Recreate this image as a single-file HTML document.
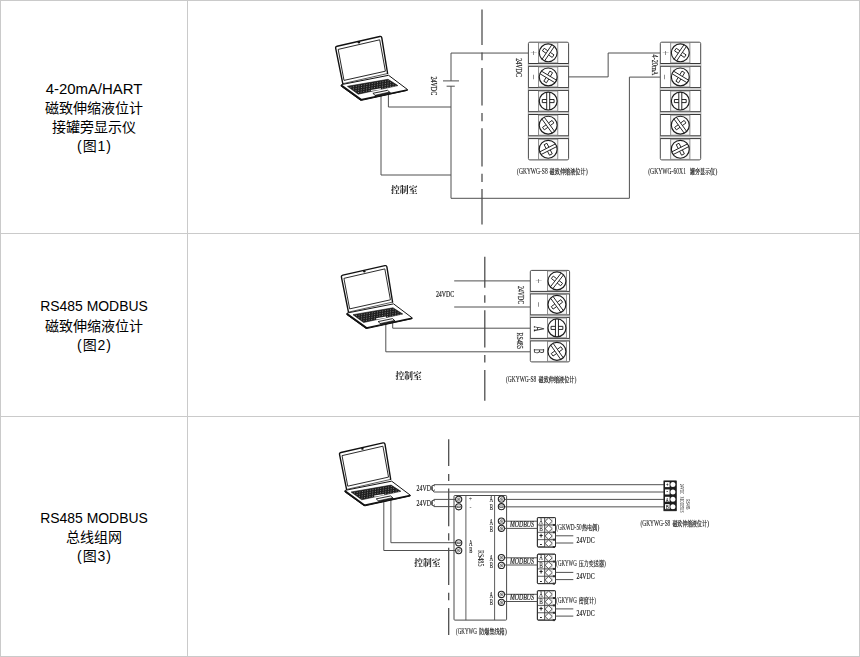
<!DOCTYPE html>
<html lang="zh-CN">
<head>
<meta charset="utf-8">
<title>接线图</title>
<style>
html,body{margin:0;padding:0;background:#fff;}
body{width:860px;height:657px;position:relative;overflow:hidden;font-family:"Liberation Sans","Noto Sans CJK SC",sans-serif;}
.hl{position:absolute;left:0;width:860px;height:1px;background:#cacaca;}
.vl{position:absolute;top:0;width:1px;height:657px;background:#cacaca;}
.cap{position:absolute;left:1px;width:186px;text-align:center;color:#000;font-size:14px;line-height:19px;}
.cap .en{font-size:15.2px;display:block;white-space:nowrap;position:relative;transform-origin:50% 50%;}
.cap .zh{display:block;white-space:nowrap;}
.cap .fig{letter-spacing:0.9px;text-indent:0.9px;}
svg{position:absolute;left:0;top:0;will-change:transform;}
svg text{white-space:pre;}
</style>
</head>
<body>
<div class="hl" style="top:0"></div><div class="hl" style="top:233px"></div><div class="hl" style="top:416px"></div><div class="hl" style="top:656px"></div>
<div class="vl" style="left:0"></div><div class="vl" style="left:187px"></div><div class="vl" style="left:859px"></div>
<div class="cap" style="top:81px;transform:translateY(-0.7px)"><span class="en" id="t1" style="transform:scaleX(0.982);top:-1px">4-20mA/HART</span><span class="zh">磁致伸缩液位计</span><span class="zh">接罐旁显示仪</span><span class="zh fig">(图1)</span></div>
<div class="cap" style="top:298.5px;transform:translateY(-0.7px)"><span class="en" id="t2" style="transform:scaleX(0.917);top:-2px">RS485 MODBUS</span><span class="zh">磁致伸缩液位计</span><span class="zh fig">(图2)</span></div>
<div class="cap" style="top:509.5px;transform:translateY(-1px)"><span class="en" id="t3" style="transform:scaleX(0.917);top:-1px">RS485 MODBUS</span><span class="zh">总线组网</span><span class="zh fig">(图3)</span></div>

<svg width="860" height="657" viewBox="0 0 860 657">
<defs><g id="laptop">
<path d="M342.8,83.7 L335.7,48.3 Q335.3,46.6 337.1,46.2 L379.8,36.5 Q381.4,36.1 381.8,37.8 L387.6,73.5" fill="#fff" stroke="#111" stroke-width="1.4" stroke-linejoin="round" stroke-linecap="round"/>
<path d="M342.8,83.7 L387.6,73.5" fill="none" stroke="#111" stroke-width="0.7"/>
<path d="M338.2,49.4 L379.7,39.8 L385.4,71.2 L344,80.4 Z" fill="#fff" stroke="#111" stroke-width="0.9" stroke-linejoin="round"/>
<circle cx="358.9" cy="42.3" r="1.2" fill="#111"/>
<path d="M341.5,84.6 L388.6,75.3 L407.3,89.4 L407.1,90.4 L361.6,100.3 L360.4,100.1 L341.3,86.3 Z" fill="#fff" stroke="#111" stroke-width="1" stroke-linejoin="round"/>
<path d="M341.5,85.6 L360.9,99.6" fill="none" stroke="#111" stroke-width="1.8" stroke-linecap="round"/>
<path d="M360.9,99.7 L407.2,89.9" fill="none" stroke="#111" stroke-width="1.5" stroke-linecap="round"/>
<path d="M347.4,86.3 L388,79.3 L397.9,85.6 L358.2,94.2 Z" fill="#1e1e1e" stroke="#111" stroke-width="0.6"/>
<path d="M350.5,87.3 L388.6,80.7 M353,89 L391,82.5 M355.5,90.8 L393.5,84.3 M358,92.6 L370,90.4 M382,88.2 L396,85.8" fill="none" stroke="#c8c8c8" stroke-width="0.65" stroke-dasharray="0.9 1.8"/>
<path d="M370.9,90.5 L381,88.8" fill="none" stroke="#fff" stroke-width="1.2"/>
<path d="M372.9,93.3 L387.6,90.3 L390.6,93.2 L376.4,96.5 Z" fill="#fff" stroke="#111" stroke-width="0.9" stroke-linejoin="round"/>
<path d="M375.2,95.2 L389.4,92.1 L390.6,93.2 L376.4,96.5 Z" fill="#222" stroke="#111" stroke-width="0.6"/>
</g></defs>
<path d="M528.4,53.05 L451,53.05 L451,80.9" fill="none" stroke="#505050" stroke-width="1" />
<line x1="443" y1="80.9" x2="459" y2="80.9" stroke="#505050" stroke-width="1" />
<line x1="446.6" y1="86.2" x2="454.8" y2="86.2" stroke="#505050" stroke-width="1" />
<path d="M451,86.2 L451,198.3 L629.4,198.3 L629.4,77.1 L660.3,77.1" fill="none" stroke="#505050" stroke-width="1" />
<path d="M381,94 L381,175 L451,175" fill="none" stroke="#505050" stroke-width="1" />
<path d="M388.4,93 L388.4,107 L451,107" fill="none" stroke="#505050" stroke-width="1" />
<path d="M568.6,76.9 L608.15,76.9 L608.15,53 L660.3,53" fill="none" stroke="#505050" stroke-width="1" />
<line x1="482" y1="9.6" x2="482" y2="44.9" stroke="#484848" stroke-width="1.25" />
<line x1="482" y1="52.5" x2="482" y2="60.2" stroke="#484848" stroke-width="1.25" />
<line x1="482" y1="67.9" x2="482" y2="105.5" stroke="#484848" stroke-width="1.25" />
<line x1="482" y1="113" x2="482" y2="121.3" stroke="#484848" stroke-width="1.25" />
<line x1="482" y1="128.3" x2="482" y2="166.4" stroke="#484848" stroke-width="1.25" />
<line x1="482" y1="173.8" x2="482" y2="182" stroke="#484848" stroke-width="1.25" />
<line x1="482" y1="189" x2="482" y2="224.5" stroke="#484848" stroke-width="1.25" />
<use href="#laptop" x="0" y="0"/>
<rect x="528.4" y="42.2" width="40.2" height="117.7" fill="#fff" stroke="#4a4a4a" stroke-width="1" rx="1.4"/>
<rect x="528.4" y="63.5" width="40.2" height="2.8" fill="#e4e4e4"/>
<line x1="528.4" y1="63.5" x2="568.6" y2="63.5" stroke="#383838" stroke-width="1" />
<rect x="538.6" y="42.8" width="19.2" height="20.1" fill="#f6f6f6" stroke="#777" stroke-width="0.8"/>
<circle cx="548.2" cy="52.85" r="8.95" fill="#fff" stroke="#1c1c1c" stroke-width="1.15"/>
<path d="M542.02,59.33 L551.89,44.7 M546.09,53.3 L542.44,50.84 L544.18,48.27 L547.82,50.73 M544.51,61 L554.38,46.37 M548.58,54.97 L552.22,57.43 L553.96,54.86 L550.31,52.4 " fill="none" stroke="#1c1c1c" stroke-width="0.95"/>
<rect x="528.4" y="87.6" width="40.2" height="2.8" fill="#e4e4e4"/>
<line x1="528.4" y1="87.6" x2="568.6" y2="87.6" stroke="#383838" stroke-width="1" />
<line x1="528.4" y1="66.3" x2="568.6" y2="66.3" stroke="#383838" stroke-width="1" />
<rect x="538.6" y="66.9" width="19.2" height="20.1" fill="#f6f6f6" stroke="#777" stroke-width="0.8"/>
<circle cx="548.2" cy="76.95" r="8.95" fill="#fff" stroke="#1c1c1c" stroke-width="1.15"/>
<path d="M541.41,71.12 L556.54,80.21 M547.64,74.87 L549.91,71.09 L552.57,72.69 L550.3,76.46 M539.86,73.69 L554.99,82.78 M546.1,77.44 L543.83,81.21 L546.49,82.81 L548.76,79.03 " fill="none" stroke="#1c1c1c" stroke-width="0.95"/>
<rect x="528.4" y="111.7" width="40.2" height="2.8" fill="#e4e4e4"/>
<line x1="528.4" y1="111.7" x2="568.6" y2="111.7" stroke="#383838" stroke-width="1" />
<line x1="528.4" y1="90.4" x2="568.6" y2="90.4" stroke="#383838" stroke-width="1" />
<rect x="538.6" y="91" width="19.2" height="20.1" fill="#f6f6f6" stroke="#777" stroke-width="0.8"/>
<circle cx="548.2" cy="101.05" r="8.95" fill="#fff" stroke="#1c1c1c" stroke-width="1.15"/>
<path d="M549.7,92.23 L549.7,109.87 M549.7,99.5 L554.1,99.5 L554.1,102.6 L549.7,102.6 M546.7,92.23 L546.7,109.87 M546.7,99.5 L542.3,99.5 L542.3,102.6 L546.7,102.6 " fill="none" stroke="#1c1c1c" stroke-width="0.95"/>
<rect x="528.4" y="135.8" width="40.2" height="2.8" fill="#e4e4e4"/>
<line x1="528.4" y1="135.8" x2="568.6" y2="135.8" stroke="#383838" stroke-width="1" />
<line x1="528.4" y1="114.5" x2="568.6" y2="114.5" stroke="#383838" stroke-width="1" />
<rect x="538.6" y="115.1" width="19.2" height="20.1" fill="#f6f6f6" stroke="#777" stroke-width="0.8"/>
<circle cx="548.2" cy="125.15" r="8.95" fill="#fff" stroke="#1c1c1c" stroke-width="1.15"/>
<path d="M544.23,117.13 L554.6,131.41 M548.5,123.01 L552.06,120.43 L553.88,122.94 L550.32,125.52 M541.8,118.89 L552.17,133.17 M546.08,124.78 L542.52,127.36 L544.34,129.87 L547.9,127.29 " fill="none" stroke="#1c1c1c" stroke-width="0.95"/>
<line x1="528.4" y1="138.6" x2="568.6" y2="138.6" stroke="#383838" stroke-width="1" />
<rect x="538.6" y="139.2" width="19.2" height="20.1" fill="#f6f6f6" stroke="#777" stroke-width="0.8"/>
<circle cx="548.2" cy="149.25" r="8.95" fill="#fff" stroke="#1c1c1c" stroke-width="1.15"/>
<path d="M539.66,151.92 L555.38,143.91 M546.14,148.62 L544.14,144.7 L546.9,143.29 L548.9,147.21 M541.02,154.59 L556.74,146.58 M547.5,151.29 L549.5,155.21 L552.26,153.8 L550.26,149.88 " fill="none" stroke="#1c1c1c" stroke-width="0.95"/>
<rect x="660.3" y="42.2" width="40.4" height="117.7" fill="#fff" stroke="#4a4a4a" stroke-width="1" rx="1.4"/>
<rect x="660.3" y="63.5" width="40.4" height="2.8" fill="#e4e4e4"/>
<line x1="660.3" y1="63.5" x2="700.7" y2="63.5" stroke="#383838" stroke-width="1" />
<rect x="670.7" y="42.8" width="19.2" height="20.1" fill="#f6f6f6" stroke="#777" stroke-width="0.8"/>
<circle cx="680.3" cy="52.85" r="8.95" fill="#fff" stroke="#1c1c1c" stroke-width="1.15"/>
<path d="M674.12,59.33 L683.99,44.7 M678.19,53.3 L674.54,50.84 L676.28,48.27 L679.92,50.73 M676.61,61 L686.48,46.37 M680.68,54.97 L684.32,57.43 L686.06,54.86 L682.41,52.4 " fill="none" stroke="#1c1c1c" stroke-width="0.95"/>
<rect x="660.3" y="87.6" width="40.4" height="2.8" fill="#e4e4e4"/>
<line x1="660.3" y1="87.6" x2="700.7" y2="87.6" stroke="#383838" stroke-width="1" />
<line x1="660.3" y1="66.3" x2="700.7" y2="66.3" stroke="#383838" stroke-width="1" />
<rect x="670.7" y="66.9" width="19.2" height="20.1" fill="#f6f6f6" stroke="#777" stroke-width="0.8"/>
<circle cx="680.3" cy="76.95" r="8.95" fill="#fff" stroke="#1c1c1c" stroke-width="1.15"/>
<path d="M673.51,71.12 L688.64,80.21 M679.74,74.87 L682.01,71.09 L684.67,72.69 L682.4,76.46 M671.96,73.69 L687.09,82.78 M678.2,77.44 L675.93,81.21 L678.59,82.81 L680.86,79.03 " fill="none" stroke="#1c1c1c" stroke-width="0.95"/>
<rect x="660.3" y="111.7" width="40.4" height="2.8" fill="#e4e4e4"/>
<line x1="660.3" y1="111.7" x2="700.7" y2="111.7" stroke="#383838" stroke-width="1" />
<line x1="660.3" y1="90.4" x2="700.7" y2="90.4" stroke="#383838" stroke-width="1" />
<rect x="670.7" y="91" width="19.2" height="20.1" fill="#f6f6f6" stroke="#777" stroke-width="0.8"/>
<circle cx="680.3" cy="101.05" r="8.95" fill="#fff" stroke="#1c1c1c" stroke-width="1.15"/>
<path d="M681.8,92.23 L681.8,109.87 M681.8,99.5 L686.2,99.5 L686.2,102.6 L681.8,102.6 M678.8,92.23 L678.8,109.87 M678.8,99.5 L674.4,99.5 L674.4,102.6 L678.8,102.6 " fill="none" stroke="#1c1c1c" stroke-width="0.95"/>
<rect x="660.3" y="135.8" width="40.4" height="2.8" fill="#e4e4e4"/>
<line x1="660.3" y1="135.8" x2="700.7" y2="135.8" stroke="#383838" stroke-width="1" />
<line x1="660.3" y1="114.5" x2="700.7" y2="114.5" stroke="#383838" stroke-width="1" />
<rect x="670.7" y="115.1" width="19.2" height="20.1" fill="#f6f6f6" stroke="#777" stroke-width="0.8"/>
<circle cx="680.3" cy="125.15" r="8.95" fill="#fff" stroke="#1c1c1c" stroke-width="1.15"/>
<path d="M676.33,117.13 L686.7,131.41 M680.6,123.01 L684.16,120.43 L685.98,122.94 L682.42,125.52 M673.9,118.89 L684.27,133.17 M678.18,124.78 L674.62,127.36 L676.44,129.87 L680,127.29 " fill="none" stroke="#1c1c1c" stroke-width="0.95"/>
<line x1="660.3" y1="138.6" x2="700.7" y2="138.6" stroke="#383838" stroke-width="1" />
<rect x="670.7" y="139.2" width="19.2" height="20.1" fill="#f6f6f6" stroke="#777" stroke-width="0.8"/>
<circle cx="680.3" cy="149.25" r="8.95" fill="#fff" stroke="#1c1c1c" stroke-width="1.15"/>
<path d="M671.76,151.92 L687.48,143.91 M678.24,148.62 L676.24,144.7 L679,143.29 L681,147.21 M673.12,154.59 L688.84,146.58 M679.6,151.29 L681.6,155.21 L684.36,153.8 L682.36,149.88 " fill="none" stroke="#1c1c1c" stroke-width="0.95"/>
<text transform="translate(533.5 52.8) rotate(90) scale(0.85 1.35)" font-size="10" text-anchor="middle" dominant-baseline="central" fill="#555" font-family="'Liberation Serif','Noto Serif CJK SC',serif">+</text>
<text transform="translate(533.5 77) rotate(90) scale(1.7 0.9)" font-size="10" text-anchor="middle" dominant-baseline="central" fill="#555" font-family="'Liberation Serif','Noto Serif CJK SC',serif">-</text>
<text transform="translate(665.4 52.8) rotate(90) scale(0.85 1.35)" font-size="10" text-anchor="middle" dominant-baseline="central" fill="#555" font-family="'Liberation Serif','Noto Serif CJK SC',serif">+</text>
<text transform="translate(665.4 77.1) rotate(90) scale(1.7 0.9)" font-size="10" text-anchor="middle" dominant-baseline="central" fill="#555" font-family="'Liberation Serif','Noto Serif CJK SC',serif">-</text>
<text transform="translate(434.1 85.8) rotate(90) scale(0.703 1)" x="0" y="2.8" font-size="8.55" text-anchor="middle" fill="#222" stroke="#222" stroke-width="0.18" font-family="'Liberation Serif','Noto Serif CJK SC',serif">24VDC</text>
<text transform="translate(519 67.5) rotate(90) scale(0.703 1)" x="0" y="2.8" font-size="8.55" text-anchor="middle" fill="#222" stroke="#222" stroke-width="0.18" font-family="'Liberation Serif','Noto Serif CJK SC',serif">24VDC</text>
<text transform="translate(654.7 64.9) rotate(90) scale(0.733 1)" x="0" y="2.8" font-size="8.55" text-anchor="middle" fill="#222" stroke="#222" stroke-width="0.18" font-family="'Liberation Serif','Noto Serif CJK SC',serif">4-20mA</text>
<text x="391" y="193.21" font-size="9.2" textLength="26.5" lengthAdjust="spacingAndGlyphs" fill="#222" font-weight="700" font-family="'Liberation Serif','Noto Serif CJK SC',serif">控制室</text>
<text font-family="'Liberation Serif','Noto Serif CJK SC',serif" fill="#222" stroke="#222" stroke-width="0.1"><tspan x="517.1" y="174.25" font-size="7.79" textLength="30.6" lengthAdjust="spacingAndGlyphs">(GKYWG-S8</tspan><tspan font-size="1"> </tspan><tspan x="549.6" y="174.18" font-size="6.9" textLength="36" lengthAdjust="spacingAndGlyphs" fill="#1a1a1a" stroke="#1a1a1a" stroke-width="0.2">磁致伸缩液位计</tspan><tspan x="585.8" y="174.25" font-size="7.79" textLength="2" lengthAdjust="spacingAndGlyphs">)</tspan></text>
<text font-family="'Liberation Serif','Noto Serif CJK SC',serif" fill="#222" stroke="#222" stroke-width="0.1"><tspan x="648.2" y="174.25" font-size="7.79" textLength="37.8" lengthAdjust="spacingAndGlyphs">(GKYWG-60X1</tspan><tspan font-size="1"> </tspan><tspan x="690" y="174.18" font-size="6.9" textLength="25.1" lengthAdjust="spacingAndGlyphs" fill="#1a1a1a" stroke="#1a1a1a" stroke-width="0.2">罐旁显示仪</tspan><tspan x="715.3" y="174.25" font-size="7.79" textLength="2.1" lengthAdjust="spacingAndGlyphs">)</tspan></text>
<line x1="454.2" y1="280.9" x2="530.3" y2="280.9" stroke="#505050" stroke-width="1" />
<line x1="454.2" y1="307" x2="530.3" y2="307" stroke="#505050" stroke-width="1" />
<path d="M392.7,321 L392.7,328.2 L530.3,328.2" fill="none" stroke="#505050" stroke-width="1" />
<path d="M385.8,322 L385.8,351.8 L530.3,351.8" fill="none" stroke="#505050" stroke-width="1" />
<use href="#laptop" transform="translate(10.81 229.69) scale(0.985)"/>
<line x1="484.8" y1="256.8" x2="484.8" y2="287.8" stroke="#484848" stroke-width="1.25" />
<line x1="484.8" y1="295.2" x2="484.8" y2="302.8" stroke="#484848" stroke-width="1.25" />
<line x1="484.8" y1="310.3" x2="484.8" y2="347.5" stroke="#484848" stroke-width="1.25" />
<line x1="484.8" y1="355" x2="484.8" y2="362.5" stroke="#484848" stroke-width="1.25" />
<line x1="484.8" y1="369.9" x2="484.8" y2="400.8" stroke="#484848" stroke-width="1.25" />
<rect x="530.3" y="270.4" width="39.3" height="91.5" fill="#fff" stroke="#4a4a4a" stroke-width="1" rx="1.4"/>
<rect x="530.3" y="291.4" width="39.3" height="2.5" fill="#e4e4e4"/>
<line x1="530.3" y1="291.4" x2="569.6" y2="291.4" stroke="#383838" stroke-width="1" />
<rect x="547.4" y="271" width="19.1" height="19.8" fill="#f6f6f6" stroke="#777" stroke-width="0.8"/>
<circle cx="556.95" cy="280.9" r="8.95" fill="#fff" stroke="#1c1c1c" stroke-width="1.15"/>
<path d="M550.34,286.93 L561.2,273.02 M554.81,281.2 L551.35,278.49 L553.26,276.05 L556.72,278.76 M552.7,288.78 L563.56,274.87 M557.18,283.04 L560.64,285.75 L562.55,283.31 L559.09,280.6 " fill="none" stroke="#1c1c1c" stroke-width="0.95"/>
<rect x="530.3" y="314.9" width="39.3" height="2.5" fill="#e4e4e4"/>
<line x1="530.3" y1="314.9" x2="569.6" y2="314.9" stroke="#383838" stroke-width="1" />
<line x1="530.3" y1="293.9" x2="569.6" y2="293.9" stroke="#383838" stroke-width="1" />
<rect x="547.4" y="294.5" width="19.1" height="19.8" fill="#f6f6f6" stroke="#777" stroke-width="0.8"/>
<circle cx="556.95" cy="304.4" r="8.95" fill="#fff" stroke="#1c1c1c" stroke-width="1.15"/>
<path d="M552.98,296.38 L563.35,310.66 M557.25,302.26 L560.81,299.68 L562.63,302.19 L559.07,304.77 M550.55,298.14 L560.92,312.42 M554.83,304.03 L551.27,306.61 L553.09,309.12 L556.65,306.54 " fill="none" stroke="#1c1c1c" stroke-width="0.95"/>
<rect x="530.3" y="338.4" width="39.3" height="2.5" fill="#e4e4e4"/>
<line x1="530.3" y1="338.4" x2="569.6" y2="338.4" stroke="#383838" stroke-width="1" />
<line x1="530.3" y1="317.4" x2="569.6" y2="317.4" stroke="#383838" stroke-width="1" />
<rect x="547.4" y="318" width="19.1" height="19.8" fill="#f6f6f6" stroke="#777" stroke-width="0.8"/>
<circle cx="556.95" cy="327.9" r="8.95" fill="#fff" stroke="#1c1c1c" stroke-width="1.15"/>
<path d="M558.45,319.08 L558.45,336.72 M558.45,326.35 L562.85,326.35 L562.85,329.45 L558.45,329.45 M555.45,319.08 L555.45,336.72 M555.45,326.35 L551.05,326.35 L551.05,329.45 L555.45,329.45 " fill="none" stroke="#1c1c1c" stroke-width="0.95"/>
<line x1="530.3" y1="340.9" x2="569.6" y2="340.9" stroke="#383838" stroke-width="1" />
<rect x="547.4" y="341.5" width="19.1" height="19.8" fill="#f6f6f6" stroke="#777" stroke-width="0.8"/>
<circle cx="556.95" cy="351.4" r="8.95" fill="#fff" stroke="#1c1c1c" stroke-width="1.15"/>
<path d="M553.12,343.31 L563.24,357.77 M557.29,349.27 L560.89,346.75 L562.67,349.29 L559.07,351.81 M550.66,345.03 L560.78,359.49 M554.83,350.99 L551.23,353.51 L553.01,356.05 L556.61,353.53 " fill="none" stroke="#1c1c1c" stroke-width="0.95"/>
<text transform="translate(538.7 280.8) rotate(90) scale(0.85 1.35)" font-size="10" text-anchor="middle" dominant-baseline="central" fill="#555" font-family="'Liberation Serif','Noto Serif CJK SC',serif">+</text>
<text transform="translate(538.9 304.5) rotate(90) scale(1.7 0.9)" font-size="10" text-anchor="middle" dominant-baseline="central" fill="#555" font-family="'Liberation Serif','Noto Serif CJK SC',serif">-</text>
<text transform="translate(538.8 328.7) rotate(90) scale(0.51 1)" x="0" y="5" font-size="15.27" text-anchor="middle" fill="#222" stroke="#222" stroke-width="0.2" font-family="'Liberation Serif','Noto Serif CJK SC',serif">A</text>
<text transform="translate(538.8 351.1) rotate(90) scale(0.47 1)" x="0" y="5" font-size="15.27" text-anchor="middle" fill="#222" stroke="#222" stroke-width="0.2" font-family="'Liberation Serif','Noto Serif CJK SC',serif">B</text>
<text transform="translate(445.1 294.1) scale(0.668 1)" x="0" y="2.9" font-size="8.85" text-anchor="middle" fill="#222" stroke="#222" stroke-width="0.18" font-family="'Liberation Serif','Noto Serif CJK SC',serif">24VDC</text>
<text transform="translate(521 295) rotate(90) scale(0.680 1)" x="0" y="2.8" font-size="8.55" text-anchor="middle" fill="#222" stroke="#222" stroke-width="0.18" font-family="'Liberation Serif','Noto Serif CJK SC',serif">24VDC</text>
<text transform="translate(519.8 340.7) rotate(90) scale(0.696 1)" x="0" y="2.8" font-size="8.55" text-anchor="middle" fill="#222" stroke="#222" stroke-width="0.18" font-family="'Liberation Serif','Noto Serif CJK SC',serif">RS485</text>
<text x="395.4" y="379.01" font-size="9.2" textLength="26.3" lengthAdjust="spacingAndGlyphs" fill="#222" font-weight="700" font-family="'Liberation Serif','Noto Serif CJK SC',serif">控制室</text>
<text font-family="'Liberation Serif','Noto Serif CJK SC',serif" fill="#222" stroke="#222" stroke-width="0.1"><tspan x="506" y="382.05" font-size="7.79" textLength="30.3" lengthAdjust="spacingAndGlyphs">(GKYWG-S8</tspan><tspan font-size="1"> </tspan><tspan x="538.6" y="381.98" font-size="6.9" textLength="35.8" lengthAdjust="spacingAndGlyphs" fill="#1a1a1a" stroke="#1a1a1a" stroke-width="0.2">磁致伸缩液位计</tspan><tspan x="574.6" y="382.05" font-size="7.79" textLength="1.9" lengthAdjust="spacingAndGlyphs">)</tspan></text>
<line x1="448.7" y1="439.2" x2="448.7" y2="466" stroke="#484848" stroke-width="1.25" />
<line x1="448.7" y1="473.9" x2="448.7" y2="481.1" stroke="#484848" stroke-width="1.25" />
<line x1="448.7" y1="488.6" x2="448.7" y2="526.3" stroke="#484848" stroke-width="1.25" />
<line x1="448.7" y1="533.3" x2="448.7" y2="540.6" stroke="#484848" stroke-width="1.25" />
<line x1="448.7" y1="547.8" x2="448.7" y2="585" stroke="#484848" stroke-width="1.25" />
<line x1="448.7" y1="592.8" x2="448.7" y2="600.3" stroke="#484848" stroke-width="1.25" />
<line x1="448.7" y1="607.9" x2="448.7" y2="635.1" stroke="#484848" stroke-width="1.25" />
<rect x="454" y="495.5" width="52.6" height="124.6" fill="none" stroke="#4a4a4a" stroke-width="1" rx="0.8"/>
<line x1="465.9" y1="495.5" x2="465.9" y2="620.1" stroke="#4a4a4a" stroke-width="0.9" />
<line x1="494.6" y1="495.5" x2="494.6" y2="620.1" stroke="#4a4a4a" stroke-width="0.9" />
<path d="M663.9,484.7 L433.9,484.7 L432.4,486.5 L432.4,490.2 L433.9,492 L663.9,492" fill="none" stroke="#505050" stroke-width="1" />
<path d="M455.6,499.4 L433.9,499.4 L432.4,501.2 L432.4,504.8 L433.9,506.6 L455.6,506.6" fill="none" stroke="#505050" stroke-width="1" />
<line x1="504.6" y1="499.4" x2="663.9" y2="499.4" stroke="#505050" stroke-width="1" />
<line x1="504.6" y1="506.85" x2="663.9" y2="506.85" stroke="#505050" stroke-width="1" />
<path d="M390.9,498 L390.9,542.7 L455.6,542.7" fill="none" stroke="#505050" stroke-width="1" />
<path d="M383.8,499 L383.8,550.5 L455.6,550.5" fill="none" stroke="#505050" stroke-width="1" />
<use href="#laptop" transform="translate(8.91 406.99) scale(0.985)"/>
<circle cx="458.7" cy="499.3" r="3.1" fill="#fff" stroke="#222" stroke-width="1.1"/>
<path d="M456.78,497.38 L460.62,501.22 M456.78,501.22 L460.62,497.38 M456.48,500.2 L459.6,497.08 M457.8,501.52 L460.92,498.4" stroke="#333" stroke-width="0.5" fill="none"/>
<circle cx="458.7" cy="506.8" r="3.1" fill="#fff" stroke="#222" stroke-width="1.1"/>
<rect x="457" y="506.1" width="3.4" height="1.4" fill="#fff" stroke="#222" stroke-width="0.6"/>
<circle cx="458.7" cy="542.8" r="3.1" fill="#fff" stroke="#222" stroke-width="1.1"/>
<rect x="457" y="542.1" width="3.4" height="1.4" fill="#fff" stroke="#222" stroke-width="0.6"/>
<circle cx="458.7" cy="550.6" r="3.1" fill="#fff" stroke="#222" stroke-width="1.1"/>
<path d="M456.78,548.68 L460.62,552.52 M456.78,552.52 L460.62,548.68 M456.48,551.5 L459.6,548.38 M457.8,552.82 L460.92,549.7" stroke="#333" stroke-width="0.5" fill="none"/>
<circle cx="501.4" cy="499.1" r="3.1" fill="#fff" stroke="#222" stroke-width="1.1"/>
<path d="M499.48,497.18 L503.32,501.02 M499.48,501.02 L503.32,497.18 M499.18,500 L502.3,496.88 M500.5,501.32 L503.62,498.2" stroke="#333" stroke-width="0.5" fill="none"/>
<circle cx="501.4" cy="506.7" r="3.1" fill="#fff" stroke="#222" stroke-width="1.1"/>
<rect x="499.7" y="506" width="3.4" height="1.4" fill="#fff" stroke="#222" stroke-width="0.6"/>
<circle cx="501.4" cy="521.1" r="3.1" fill="#fff" stroke="#222" stroke-width="1.1"/>
<path d="M499.48,519.18 L503.32,523.02 M499.48,523.02 L503.32,519.18 M499.18,522 L502.3,518.88 M500.5,523.32 L503.62,520.2" stroke="#333" stroke-width="0.5" fill="none"/>
<circle cx="501.4" cy="528.3" r="3.1" fill="#fff" stroke="#222" stroke-width="1.1"/>
<path d="M499.48,526.38 L503.32,530.22 M499.48,530.22 L503.32,526.38 M499.18,529.2 L502.3,526.08 M500.5,530.52 L503.62,527.4" stroke="#333" stroke-width="0.5" fill="none"/>
<circle cx="501.4" cy="557.6" r="3.1" fill="#fff" stroke="#222" stroke-width="1.1"/>
<path d="M499.48,555.68 L503.32,559.52 M499.48,559.52 L503.32,555.68 M499.18,558.5 L502.3,555.38 M500.5,559.82 L503.62,556.7" stroke="#333" stroke-width="0.5" fill="none"/>
<circle cx="501.4" cy="565.4" r="3.1" fill="#fff" stroke="#222" stroke-width="1.1"/>
<path d="M499.48,563.48 L503.32,567.32 M499.48,567.32 L503.32,563.48 M499.18,566.3 L502.3,563.18 M500.5,567.62 L503.62,564.5" stroke="#333" stroke-width="0.5" fill="none"/>
<circle cx="501.4" cy="594.4" r="3.1" fill="#fff" stroke="#222" stroke-width="1.1"/>
<path d="M499.48,592.48 L503.32,596.32 M499.48,596.32 L503.32,592.48 M499.18,595.3 L502.3,592.18 M500.5,596.62 L503.62,593.5" stroke="#333" stroke-width="0.5" fill="none"/>
<circle cx="501.4" cy="602.3" r="3.1" fill="#fff" stroke="#222" stroke-width="1.1"/>
<path d="M499.48,600.38 L503.32,604.22 M499.48,604.22 L503.32,600.38 M499.18,603.2 L502.3,600.08 M500.5,604.52 L503.62,601.4" stroke="#333" stroke-width="0.5" fill="none"/>
<text x="470.4" y="501.2" font-size="6" text-anchor="middle" fill="#222" font-family="'Liberation Serif','Noto Serif CJK SC',serif">+</text>
<text x="470.4" y="508.6" font-size="6" text-anchor="middle" fill="#222" font-family="'Liberation Serif','Noto Serif CJK SC',serif">-</text>
<text transform="translate(491.3 499.7) scale(0.64 1)" x="0" y="2.5" font-size="7.63" text-anchor="middle" fill="#222" stroke="#222" stroke-width="0.14" font-family="'Liberation Serif','Noto Serif CJK SC',serif">A</text>
<text transform="translate(491.3 507) scale(0.62 1)" x="0" y="2.5" font-size="7.63" text-anchor="middle" fill="#222" stroke="#222" stroke-width="0.14" font-family="'Liberation Serif','Noto Serif CJK SC',serif">B</text>
<text transform="translate(491.3 522) scale(0.64 1)" x="0" y="2.5" font-size="7.63" text-anchor="middle" fill="#222" stroke="#222" stroke-width="0.14" font-family="'Liberation Serif','Noto Serif CJK SC',serif">A</text>
<text transform="translate(491.3 529.3) scale(0.62 1)" x="0" y="2.5" font-size="7.63" text-anchor="middle" fill="#222" stroke="#222" stroke-width="0.14" font-family="'Liberation Serif','Noto Serif CJK SC',serif">B</text>
<text transform="translate(491.3 558.3) scale(0.64 1)" x="0" y="2.5" font-size="7.63" text-anchor="middle" fill="#222" stroke="#222" stroke-width="0.14" font-family="'Liberation Serif','Noto Serif CJK SC',serif">A</text>
<text transform="translate(491.3 565.6) scale(0.62 1)" x="0" y="2.5" font-size="7.63" text-anchor="middle" fill="#222" stroke="#222" stroke-width="0.14" font-family="'Liberation Serif','Noto Serif CJK SC',serif">B</text>
<text transform="translate(491.3 595.1) scale(0.64 1)" x="0" y="2.5" font-size="7.63" text-anchor="middle" fill="#222" stroke="#222" stroke-width="0.14" font-family="'Liberation Serif','Noto Serif CJK SC',serif">A</text>
<text transform="translate(491.3 602.4) scale(0.62 1)" x="0" y="2.5" font-size="7.63" text-anchor="middle" fill="#222" stroke="#222" stroke-width="0.14" font-family="'Liberation Serif','Noto Serif CJK SC',serif">B</text>
<text transform="translate(470.7 543.3) scale(0.64 1)" x="0" y="2.5" font-size="7.63" text-anchor="middle" fill="#222" stroke="#222" stroke-width="0.14" font-family="'Liberation Serif','Noto Serif CJK SC',serif">A</text>
<text transform="translate(470.7 550.6) scale(0.62 1)" x="0" y="2.5" font-size="7.63" text-anchor="middle" fill="#222" stroke="#222" stroke-width="0.14" font-family="'Liberation Serif','Noto Serif CJK SC',serif">B</text>
<text transform="translate(480.3 558.2) rotate(90) scale(0.759 1)" x="0" y="2.6" font-size="7.94" text-anchor="middle" fill="#222" stroke="#222" stroke-width="0.05" font-family="'Liberation Serif','Noto Serif CJK SC',serif">RS485</text>
<rect x="537.4" y="517.6" width="18.1" height="29.4" fill="#fff" stroke="#333" stroke-width="1" rx="0.8"/>
<rect x="544.6" y="517.6" width="8.1" height="7.35" fill="#dedede"/>
<path d="M548.65,517.88 L552.2,521.27 L548.65,524.67 L545.1,521.27 Z" fill="#fff" stroke="#3a3a3a" stroke-width="0.8" stroke-linejoin="round"/>
<rect x="552.8" y="523.95" width="2.2" height="2" fill="#333"/>
<text transform="translate(541 521.38) scale(0.65 1)" x="0" y="2.5" font-size="7.63" text-anchor="middle" fill="#333" stroke="#333" stroke-width="0.14" font-family="'Liberation Serif','Noto Serif CJK SC',serif">A</text>
<rect x="544.6" y="524.95" width="8.1" height="7.35" fill="#dedede"/>
<path d="M548.65,525.23 L552.2,528.62 L548.65,532.02 L545.1,528.62 Z" fill="#fff" stroke="#3a3a3a" stroke-width="0.8" stroke-linejoin="round"/>
<rect x="552.8" y="531.3" width="2.2" height="2" fill="#333"/>
<text transform="translate(541 528.73) scale(0.71 1)" x="0" y="2.5" font-size="7.63" text-anchor="middle" fill="#333" stroke="#333" stroke-width="0.14" font-family="'Liberation Serif','Noto Serif CJK SC',serif">B</text>
<rect x="544.6" y="532.3" width="8.1" height="7.35" fill="#dedede"/>
<path d="M548.65,532.58 L552.2,535.98 L548.65,539.38 L545.1,535.98 Z" fill="#fff" stroke="#3a3a3a" stroke-width="0.8" stroke-linejoin="round"/>
<rect x="552.8" y="538.65" width="2.2" height="2" fill="#333"/>
<text x="541" y="537.88" font-size="5.5" text-anchor="middle" fill="#222" stroke="#222" stroke-width="0.6" font-family="'Liberation Serif','Noto Serif CJK SC',serif">+</text>
<rect x="544.6" y="539.65" width="8.1" height="7.35" fill="#dedede"/>
<path d="M548.65,539.93 L552.2,543.33 L548.65,546.73 L545.1,543.33 Z" fill="#fff" stroke="#3a3a3a" stroke-width="0.8" stroke-linejoin="round"/>
<rect x="552.8" y="546" width="2.2" height="2" fill="#333"/>
<text x="541" y="545.93" font-size="5.5" text-anchor="middle" fill="#222" stroke="#222" stroke-width="0.3" font-family="'Liberation Serif','Noto Serif CJK SC',serif">-</text>
<line x1="537.4" y1="524.95" x2="555.5" y2="524.95" stroke="#333" stroke-width="0.8" />
<line x1="537.4" y1="532.3" x2="555.5" y2="532.3" stroke="#333" stroke-width="0.8" />
<line x1="537.4" y1="539.65" x2="555.5" y2="539.65" stroke="#333" stroke-width="0.8" />
<line x1="544.6" y1="517.6" x2="544.6" y2="547" stroke="#333" stroke-width="0.8" />
<rect x="537.4" y="517.6" width="18.1" height="29.4" fill="none" stroke="#333" stroke-width="1" rx="0.8"/>
<line x1="504.6" y1="521.2" x2="537.4" y2="521.2" stroke="#505050" stroke-width="1" />
<line x1="504.6" y1="528.4" x2="537.4" y2="528.4" stroke="#505050" stroke-width="1" />
<text transform="translate(521.9 524.9) scale(0.797 1)" x="0" y="2.4" font-size="7.33" text-anchor="middle" fill="#2a2a2a" stroke="#2a2a2a" stroke-width="0.2" font-family="'Liberation Serif','Noto Serif CJK SC',serif" font-style="italic">MODBUS</text>
<line x1="555.5" y1="535.8" x2="573.3" y2="535.8" stroke="#505050" stroke-width="1" />
<line x1="555.5" y1="543" x2="573.3" y2="543" stroke="#505050" stroke-width="1" />
<text transform="translate(585.5 539.9) scale(0.680 1)" x="0" y="2.8" font-size="8.55" text-anchor="middle" fill="#222" stroke="#222" stroke-width="0.18" font-family="'Liberation Serif','Noto Serif CJK SC',serif">24VDC</text>
<text font-family="'Liberation Serif','Noto Serif CJK SC',serif" fill="#222" stroke="#222" stroke-width="0.1"><tspan x="556.3" y="529.75" font-size="7.79" textLength="25.4" lengthAdjust="spacingAndGlyphs">(GKWD-50</tspan><tspan x="581.9" y="529.68" font-size="6.9" textLength="15.2" lengthAdjust="spacingAndGlyphs" fill="#1a1a1a" stroke="#1a1a1a" stroke-width="0.2">热电偶</tspan><tspan x="597.3" y="529.75" font-size="7.79" textLength="2.1" lengthAdjust="spacingAndGlyphs">)</tspan></text>
<rect x="537.4" y="554.2" width="18.1" height="29.4" fill="#fff" stroke="#333" stroke-width="1" rx="0.8"/>
<rect x="544.6" y="554.2" width="8.1" height="7.35" fill="#dedede"/>
<path d="M548.65,554.48 L552.2,557.88 L548.65,561.27 L545.1,557.88 Z" fill="#fff" stroke="#3a3a3a" stroke-width="0.8" stroke-linejoin="round"/>
<rect x="552.8" y="560.55" width="2.2" height="2" fill="#333"/>
<text transform="translate(541 557.98) scale(0.65 1)" x="0" y="2.5" font-size="7.63" text-anchor="middle" fill="#333" stroke="#333" stroke-width="0.14" font-family="'Liberation Serif','Noto Serif CJK SC',serif">A</text>
<rect x="544.6" y="561.55" width="8.1" height="7.35" fill="#dedede"/>
<path d="M548.65,561.83 L552.2,565.23 L548.65,568.62 L545.1,565.23 Z" fill="#fff" stroke="#3a3a3a" stroke-width="0.8" stroke-linejoin="round"/>
<rect x="552.8" y="567.9" width="2.2" height="2" fill="#333"/>
<text transform="translate(541 565.33) scale(0.71 1)" x="0" y="2.5" font-size="7.63" text-anchor="middle" fill="#333" stroke="#333" stroke-width="0.14" font-family="'Liberation Serif','Noto Serif CJK SC',serif">B</text>
<rect x="544.6" y="568.9" width="8.1" height="7.35" fill="#dedede"/>
<path d="M548.65,569.18 L552.2,572.58 L548.65,575.98 L545.1,572.58 Z" fill="#fff" stroke="#3a3a3a" stroke-width="0.8" stroke-linejoin="round"/>
<rect x="552.8" y="575.25" width="2.2" height="2" fill="#333"/>
<text x="541" y="574.48" font-size="5.5" text-anchor="middle" fill="#222" stroke="#222" stroke-width="0.6" font-family="'Liberation Serif','Noto Serif CJK SC',serif">+</text>
<rect x="544.6" y="576.25" width="8.1" height="7.35" fill="#dedede"/>
<path d="M548.65,576.53 L552.2,579.93 L548.65,583.33 L545.1,579.93 Z" fill="#fff" stroke="#3a3a3a" stroke-width="0.8" stroke-linejoin="round"/>
<rect x="552.8" y="582.6" width="2.2" height="2" fill="#333"/>
<text x="541" y="582.53" font-size="5.5" text-anchor="middle" fill="#222" stroke="#222" stroke-width="0.3" font-family="'Liberation Serif','Noto Serif CJK SC',serif">-</text>
<line x1="537.4" y1="561.55" x2="555.5" y2="561.55" stroke="#333" stroke-width="0.8" />
<line x1="537.4" y1="568.9" x2="555.5" y2="568.9" stroke="#333" stroke-width="0.8" />
<line x1="537.4" y1="576.25" x2="555.5" y2="576.25" stroke="#333" stroke-width="0.8" />
<line x1="544.6" y1="554.2" x2="544.6" y2="583.6" stroke="#333" stroke-width="0.8" />
<rect x="537.4" y="554.2" width="18.1" height="29.4" fill="none" stroke="#333" stroke-width="1" rx="0.8"/>
<line x1="504.6" y1="557.8" x2="537.4" y2="557.8" stroke="#505050" stroke-width="1" />
<line x1="504.6" y1="565" x2="537.4" y2="565" stroke="#505050" stroke-width="1" />
<text transform="translate(521.9 561.5) scale(0.797 1)" x="0" y="2.4" font-size="7.33" text-anchor="middle" fill="#2a2a2a" stroke="#2a2a2a" stroke-width="0.2" font-family="'Liberation Serif','Noto Serif CJK SC',serif" font-style="italic">MODBUS</text>
<line x1="555.5" y1="572.4" x2="573.3" y2="572.4" stroke="#505050" stroke-width="1" />
<line x1="555.5" y1="579.6" x2="573.3" y2="579.6" stroke="#505050" stroke-width="1" />
<text transform="translate(585.5 576.5) scale(0.680 1)" x="0" y="2.8" font-size="8.55" text-anchor="middle" fill="#222" stroke="#222" stroke-width="0.18" font-family="'Liberation Serif','Noto Serif CJK SC',serif">24VDC</text>
<text font-family="'Liberation Serif','Noto Serif CJK SC',serif" fill="#222" stroke="#222" stroke-width="0.1"><tspan x="556.3" y="566.35" font-size="7.79" textLength="20.4" lengthAdjust="spacingAndGlyphs">(GKYWG</tspan><tspan font-size="1"> </tspan><tspan x="578.8" y="566.28" font-size="6.9" textLength="25.1" lengthAdjust="spacingAndGlyphs" fill="#1a1a1a" stroke="#1a1a1a" stroke-width="0.2">压力变送器</tspan><tspan x="604.1" y="566.35" font-size="7.79" textLength="1.8" lengthAdjust="spacingAndGlyphs">)</tspan></text>
<rect x="537.4" y="590.7" width="18.1" height="29.4" fill="#fff" stroke="#333" stroke-width="1" rx="0.8"/>
<rect x="544.6" y="590.7" width="8.1" height="7.35" fill="#dedede"/>
<path d="M548.65,590.98 L552.2,594.38 L548.65,597.77 L545.1,594.38 Z" fill="#fff" stroke="#3a3a3a" stroke-width="0.8" stroke-linejoin="round"/>
<rect x="552.8" y="597.05" width="2.2" height="2" fill="#333"/>
<text transform="translate(541 594.48) scale(0.65 1)" x="0" y="2.5" font-size="7.63" text-anchor="middle" fill="#333" stroke="#333" stroke-width="0.14" font-family="'Liberation Serif','Noto Serif CJK SC',serif">A</text>
<rect x="544.6" y="598.05" width="8.1" height="7.35" fill="#dedede"/>
<path d="M548.65,598.33 L552.2,601.73 L548.65,605.12 L545.1,601.73 Z" fill="#fff" stroke="#3a3a3a" stroke-width="0.8" stroke-linejoin="round"/>
<rect x="552.8" y="604.4" width="2.2" height="2" fill="#333"/>
<text transform="translate(541 601.83) scale(0.71 1)" x="0" y="2.5" font-size="7.63" text-anchor="middle" fill="#333" stroke="#333" stroke-width="0.14" font-family="'Liberation Serif','Noto Serif CJK SC',serif">B</text>
<rect x="544.6" y="605.4" width="8.1" height="7.35" fill="#dedede"/>
<path d="M548.65,605.68 L552.2,609.08 L548.65,612.48 L545.1,609.08 Z" fill="#fff" stroke="#3a3a3a" stroke-width="0.8" stroke-linejoin="round"/>
<rect x="552.8" y="611.75" width="2.2" height="2" fill="#333"/>
<text x="541" y="610.98" font-size="5.5" text-anchor="middle" fill="#222" stroke="#222" stroke-width="0.6" font-family="'Liberation Serif','Noto Serif CJK SC',serif">+</text>
<rect x="544.6" y="612.75" width="8.1" height="7.35" fill="#dedede"/>
<path d="M548.65,613.03 L552.2,616.43 L548.65,619.83 L545.1,616.43 Z" fill="#fff" stroke="#3a3a3a" stroke-width="0.8" stroke-linejoin="round"/>
<rect x="552.8" y="619.1" width="2.2" height="2" fill="#333"/>
<text x="541" y="619.03" font-size="5.5" text-anchor="middle" fill="#222" stroke="#222" stroke-width="0.3" font-family="'Liberation Serif','Noto Serif CJK SC',serif">-</text>
<line x1="537.4" y1="598.05" x2="555.5" y2="598.05" stroke="#333" stroke-width="0.8" />
<line x1="537.4" y1="605.4" x2="555.5" y2="605.4" stroke="#333" stroke-width="0.8" />
<line x1="537.4" y1="612.75" x2="555.5" y2="612.75" stroke="#333" stroke-width="0.8" />
<line x1="544.6" y1="590.7" x2="544.6" y2="620.1" stroke="#333" stroke-width="0.8" />
<rect x="537.4" y="590.7" width="18.1" height="29.4" fill="none" stroke="#333" stroke-width="1" rx="0.8"/>
<line x1="504.6" y1="594.3" x2="537.4" y2="594.3" stroke="#505050" stroke-width="1" />
<line x1="504.6" y1="601.5" x2="537.4" y2="601.5" stroke="#505050" stroke-width="1" />
<text transform="translate(521.9 598) scale(0.797 1)" x="0" y="2.4" font-size="7.33" text-anchor="middle" fill="#2a2a2a" stroke="#2a2a2a" stroke-width="0.2" font-family="'Liberation Serif','Noto Serif CJK SC',serif" font-style="italic">MODBUS</text>
<line x1="555.5" y1="608.9" x2="573.3" y2="608.9" stroke="#505050" stroke-width="1" />
<line x1="555.5" y1="616.1" x2="573.3" y2="616.1" stroke="#505050" stroke-width="1" />
<text transform="translate(585.5 613) scale(0.680 1)" x="0" y="2.8" font-size="8.55" text-anchor="middle" fill="#222" stroke="#222" stroke-width="0.18" font-family="'Liberation Serif','Noto Serif CJK SC',serif">24VDC</text>
<text font-family="'Liberation Serif','Noto Serif CJK SC',serif" fill="#222" stroke="#222" stroke-width="0.1"><tspan x="556.3" y="602.85" font-size="7.79" textLength="20.4" lengthAdjust="spacingAndGlyphs">(GKYWG</tspan><tspan font-size="1"> </tspan><tspan x="578.8" y="602.78" font-size="6.9" textLength="15.2" lengthAdjust="spacingAndGlyphs" fill="#1a1a1a" stroke="#1a1a1a" stroke-width="0.2">密度计</tspan><tspan x="594.2" y="602.85" font-size="7.79" textLength="1.7" lengthAdjust="spacingAndGlyphs">)</tspan></text>
<rect x="663.8" y="480.8" width="12.8" height="30.1" fill="#1c1c1c" stroke="#1c1c1c" stroke-width="0.5"/>
<rect x="665" y="482.1" width="4.6" height="5" fill="#fff"/>
<circle cx="672.9" cy="484.6" r="2.5" fill="#fff"/>
<text x="667.3" y="486" font-size="4.5" text-anchor="middle" fill="#222" stroke="#222" stroke-width="0.3" font-family="'Liberation Serif','Noto Serif CJK SC',serif">+</text>
<rect x="665" y="489.45" width="4.6" height="5" fill="#fff"/>
<circle cx="672.9" cy="491.95" r="2.5" fill="#fff"/>
<text x="667.3" y="493.45" font-size="4.5" text-anchor="middle" fill="#222" stroke="#222" stroke-width="0.2" font-family="'Liberation Serif','Noto Serif CJK SC',serif">-</text>
<rect x="665" y="496.8" width="4.6" height="5" fill="#fff"/>
<circle cx="672.9" cy="499.3" r="2.5" fill="#fff"/>
<text transform="translate(667.3 499.4) scale(0.65 1)" x="0" y="2.1" font-size="6.41" text-anchor="middle" fill="#222" stroke="#222" stroke-width="0.14" font-family="'Liberation Serif','Noto Serif CJK SC',serif">A</text>
<rect x="665" y="504.15" width="4.6" height="5" fill="#fff"/>
<circle cx="672.9" cy="506.65" r="2.5" fill="#fff"/>
<text transform="translate(667.3 506.75) scale(0.7 1)" x="0" y="2.1" font-size="6.41" text-anchor="middle" fill="#222" stroke="#222" stroke-width="0.14" font-family="'Liberation Serif','Noto Serif CJK SC',serif">B</text>
<text transform="translate(682 489.1) rotate(90) scale(0.582 1)" x="0" y="1.9" font-size="5.8" text-anchor="middle" fill="#222" stroke="#222" stroke-width="0.02" font-family="'Liberation Serif','Noto Serif CJK SC',serif">24VDC</text>
<text transform="translate(682 504.5) rotate(90) scale(0.645 1)" x="0" y="1.9" font-size="5.8" text-anchor="middle" fill="#222" stroke="#222" stroke-width="0.02" font-family="'Liberation Serif','Noto Serif CJK SC',serif">MODBUS</text>
<text transform="translate(687.9 504.3) rotate(90) scale(0.633 1)" x="0" y="1.9" font-size="5.8" text-anchor="middle" fill="#222" stroke="#222" stroke-width="0.02" font-family="'Liberation Serif','Noto Serif CJK SC',serif">RS485</text>
<text font-family="'Liberation Serif','Noto Serif CJK SC',serif" fill="#222" stroke="#222" stroke-width="0.1"><tspan x="640.5" y="526.05" font-size="7.79" textLength="29.8" lengthAdjust="spacingAndGlyphs">(GKYWG-S8</tspan><tspan font-size="1"> </tspan><tspan x="672.4" y="525.98" font-size="6.9" textLength="34.5" lengthAdjust="spacingAndGlyphs" fill="#1a1a1a" stroke="#1a1a1a" stroke-width="0.2">磁致伸缩液位计</tspan><tspan x="707.1" y="526.05" font-size="7.79" textLength="2.1" lengthAdjust="spacingAndGlyphs">)</tspan></text>
<text font-family="'Liberation Serif','Noto Serif CJK SC',serif" fill="#222" stroke="#222" stroke-width="0.1"><tspan x="456" y="634.25" font-size="7.79" textLength="20.9" lengthAdjust="spacingAndGlyphs">(GKYWG</tspan><tspan font-size="1"> </tspan><tspan x="479.3" y="634.18" font-size="6.9" textLength="25.3" lengthAdjust="spacingAndGlyphs" fill="#1a1a1a" stroke="#1a1a1a" stroke-width="0.2">防爆集线箱</tspan><tspan x="504.8" y="634.25" font-size="7.79" textLength="2.1" lengthAdjust="spacingAndGlyphs">)</tspan></text>
<text x="414.3" y="566.31" font-size="9.2" textLength="26.3" lengthAdjust="spacingAndGlyphs" fill="#222" font-weight="700" font-family="'Liberation Serif','Noto Serif CJK SC',serif">控制室</text>
<text transform="translate(425.7 488.2) scale(0.684 1)" x="0" y="2.8" font-size="8.55" text-anchor="middle" fill="#222" stroke="#222" stroke-width="0.18" font-family="'Liberation Serif','Noto Serif CJK SC',serif">24VDC</text>
<text transform="translate(425.7 502.9) scale(0.684 1)" x="0" y="2.8" font-size="8.55" text-anchor="middle" fill="#222" stroke="#222" stroke-width="0.18" font-family="'Liberation Serif','Noto Serif CJK SC',serif">24VDC</text>
</svg>
</body>
</html>
